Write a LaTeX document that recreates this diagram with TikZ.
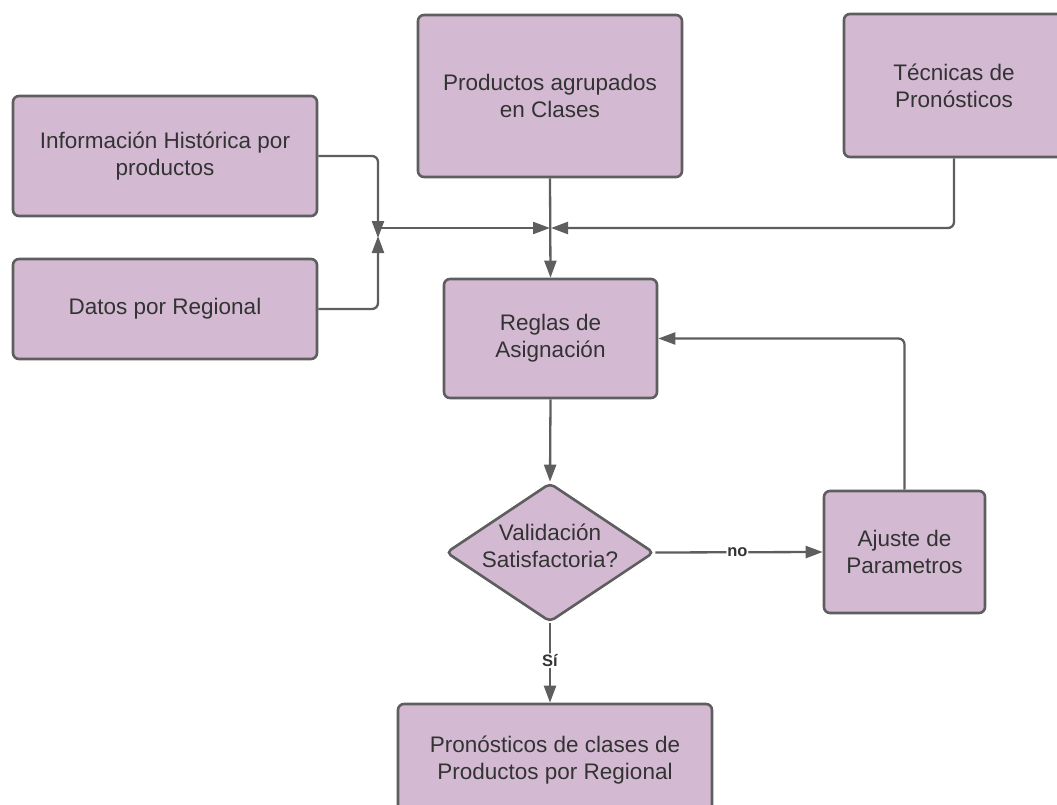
\documentclass[tikz,border=0pt]{standalone}
\usepackage{fontspec}
\setmainfont{Liberation Sans}
\usetikzlibrary{arrows.meta,shapes.geometric}
\definecolor{boxfill}{HTML}{D3BAD2}
\definecolor{edgec}{HTML}{5E5E5E}
\definecolor{txt}{HTML}{333333}
\tikzset{
  box/.style={draw=edgec, line width=2.6pt, fill=boxfill, rounded corners=6pt,
    text=txt, font=\fontsize{22.5}{27}\selectfont, align=center, inner sep=0pt},
  decision/.style={diamond, draw=edgec, line width=2.6pt, fill=boxfill, rounded corners=5pt,
    inner sep=0pt, minimum width=208pt, minimum height=139pt},
  btext/.style={text=txt, font=\fontsize{22.5}{27}\selectfont, align=center, inner sep=0pt},
  conn/.style={draw=edgec, line width=2.3pt, rounded corners=6pt},
  arr/.style={conn, -{Triangle[length=17pt,width=12pt]}},
  lbl/.style={fill=white, text=txt, font=\fontsize{16.5}{19}\bfseries\selectfont, inner sep=1pt}
}
\begin{document}
\begin{tikzpicture}[x={(1pt,0)}, y={(0,-1pt)}]
\useasboundingbox (0,0) rectangle (1057,805);
\clip (0,0) rectangle (1057,805);

\node[box, minimum width=304pt, minimum height=120pt] (info) at (165,156) {Información Histórica por\\productos};
\node[box, minimum width=304pt, minimum height=100pt] (datos) at (165,309) {Datos por Regional};
\node[box, minimum width=264pt, minimum height=162pt] (prod) at (550,96) {Productos agrupados\\en Clases};
\node[box, minimum width=220pt, minimum height=143pt] (tec) at (954,85.5) {Técnicas de\\Pronósticos};
\node[box, minimum width=213pt, minimum height=119pt] (reglas) at (550.5,338.5) {Reglas de\\Asignación};
\node[decision] (val) at (550,552.5) {};
\node[btext] (valt) at (550,546) {Validación\\Satisfactoria?};
\node[box, minimum width=161pt, minimum height=122pt] (ajuste) at (904.5,552) {Ajuste de\\Parametros};
\node[box, minimum width=314pt, minimum height=112pt] (pron) at (555,760) {Pronósticos de clases de\\Productos por Regional};

\coordinate (m) at (378,237);
\coordinate (h) at (378,228);
\coordinate (c) at (550,228);

\draw[arr] (info.east) -| ([yshift=-1pt]m);
\draw[arr] (datos.east) -| ([yshift=1pt]m);
\draw[arr] (h) -- (c);
\draw[arr] (prod.south) -- (reglas.north);
\draw[arr] (tec.south -| 954,0) |- ([xshift=1pt]c);
\draw[arr] (reglas.south) -- (val.north);
\draw[arr] (val.east) -- node[lbl, pos=0.49] (no) {no} (ajuste.west);
\draw[arr] (ajuste.north) |- (reglas.east);
\draw[arr] (val.south) -- node[lbl, pos=0.47] (si) {Sí} (val.south |- pron.north);
\end{tikzpicture}
\end{document}
